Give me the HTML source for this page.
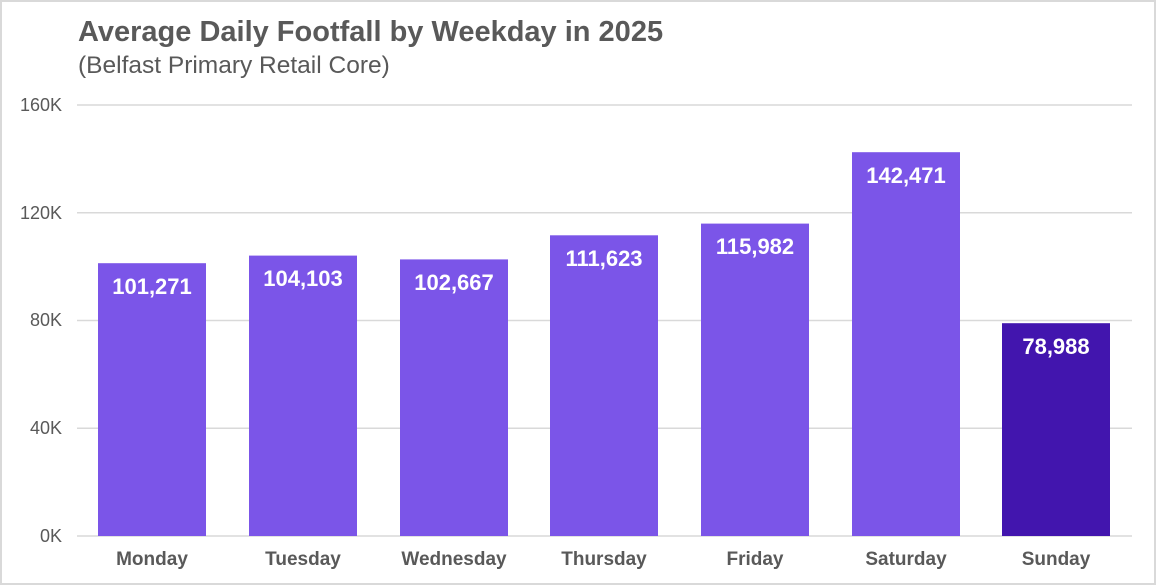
<!DOCTYPE html>
<html><head><meta charset="utf-8"><style>
html,body{margin:0;padding:0;background:#fff}
svg{display:block}
</style></head><body>
<svg width="1156" height="585" xmlns="http://www.w3.org/2000/svg" font-family="Liberation Sans, Arial, sans-serif">
<rect x="1" y="1" width="1154" height="583" fill="#fff" stroke="#d9d9d9" stroke-width="2"/>
<text x="78" y="41" font-size="29" font-weight="bold" fill="#595959">Average Daily Footfall by Weekday in 2025</text>
<text x="78" y="73" font-size="24.5" fill="#595959">(Belfast Primary Retail Core)</text>
<g stroke="#d9d9d9" stroke-width="1.5">
<line x1="77" x2="1132" y1="105" y2="105"/>
<line x1="77" x2="1132" y1="212.75" y2="212.75"/>
<line x1="77" x2="1132" y1="320.5" y2="320.5"/>
<line x1="77" x2="1132" y1="428.25" y2="428.25"/>
<line x1="77" x2="1132" y1="536" y2="536"/>
</g>
<g font-size="18" fill="#595959" text-anchor="end">
<text x="62" y="111">160K</text>
<text x="62" y="219">120K</text>
<text x="62" y="326">80K</text>
<text x="62" y="434">40K</text>
<text x="62" y="542">0K</text>
</g>
<g fill="#7b55e8">
<rect x="98" y="263.2" width="108" height="272.8"/>
<rect x="249" y="255.6" width="108" height="280.4"/>
<rect x="400" y="259.4" width="108" height="276.6"/>
<rect x="550" y="235.3" width="108" height="300.7"/>
<rect x="701" y="223.6" width="108" height="312.4"/>
<rect x="852" y="152.2" width="108" height="383.8"/>
</g>
<rect x="1002" y="323.2" width="108" height="212.8" fill="#4215ae"/>
<g font-size="22" font-weight="bold" fill="#fff" text-anchor="middle">
<text x="152" y="294">101,271</text>
<text x="303" y="286">104,103</text>
<text x="454" y="290">102,667</text>
<text x="604" y="266">111,623</text>
<text x="755" y="254">115,982</text>
<text x="906" y="183">142,471</text>
<text x="1056" y="354">78,988</text>
</g>
<g font-size="19" font-weight="bold" fill="#595959" text-anchor="middle">
<text x="152" y="565">Monday</text>
<text x="303" y="565">Tuesday</text>
<text x="454" y="565">Wednesday</text>
<text x="604" y="565">Thursday</text>
<text x="755" y="565">Friday</text>
<text x="906" y="565">Saturday</text>
<text x="1056" y="565">Sunday</text>
</g>
</svg>
</body></html>
